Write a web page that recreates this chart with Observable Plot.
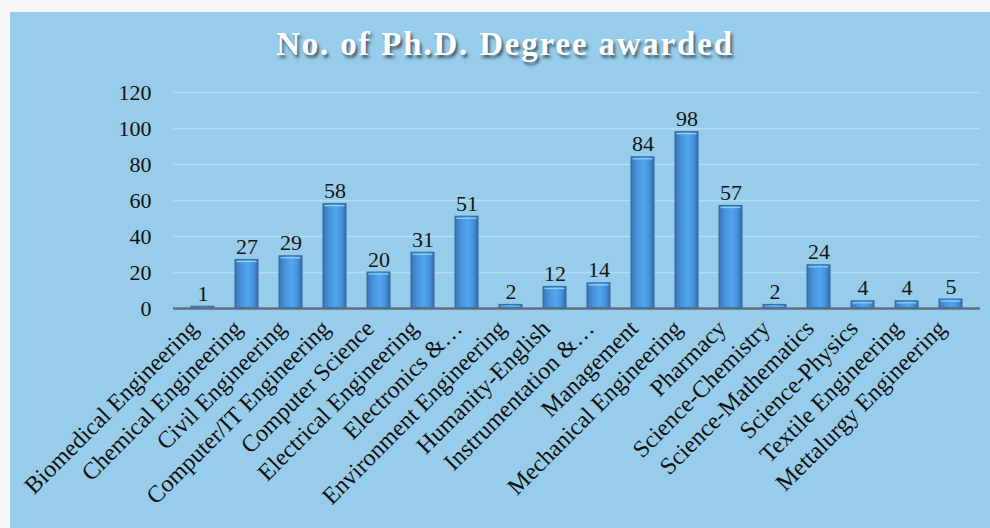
<!DOCTYPE html>
<html>
<head>
<meta charset="utf-8">
<script src="https://cdn.jsdelivr.net/npm/d3@7"></script>
<script src="https://cdn.jsdelivr.net/npm/@observablehq/plot@0.6"></script>
<style>
  html, body { margin: 0; padding: 0; background: #f7f7f7; width: 990px; height: 528px; overflow: hidden; }
  #panel { position: absolute; left: 10px; top: 12px; width: 980px; height: 516px; background: #97cdea; }
  #title { position: absolute; left: 0; top: 14px; width: 990px; text-align: center; }
  #title span { display: inline-block; font-family: "Liberation Serif", "Times New Roman", serif; font-weight: bold;
    font-size: 33px; color: #ffffff; letter-spacing: 1.8px;
    text-shadow: 2px 3px 3px rgba(0,0,0,0.55); white-space: nowrap; }
  #chart { position: absolute; left: 0; top: 63px; }
</style>
</head>
<body>
<div id="panel">
  <div id="title"><span>No. of Ph.D. Degree awarded</span></div>
  <div id="chart"></div>
</div>
<script>
const categories = ["Biomedical Engineering", "Chemical Engineering", "Civil Engineering", "Computer/IT Engineering",
  "Computer Science", "Electrical Engineering", "Electronics &…", "Environment Engineering", "Humanity-English",
  "Instrumentation &…", "Management", "Mechanical Engineering", "Pharmacy", "Science-Chemistry",
  "Science-Mathematics", "Science-Physics", "Textile Engineering", "Mettalurgy Engineering"];
const values = [1, 27, 29, 58, 20, 31, 51, 2, 12, 14, 84, 98, 57, 2, 24, 4, 4, 5];
const yTicks = [0, 20, 40, 60, 80, 100, 120];
const gridTicks = [20, 40, 60, 80, 100, 120];

const data = categories.map((c, i) => ({category: c, value: values[i]}));
const font = "'Liberation Serif', 'Times New Roman', serif";

const plot = Plot.plot({
  width: 980,
  height: 453,
  marginTop: 17,
  marginBottom: 220,
  marginLeft: 163,
  marginRight: 10,
  style: {background: "transparent", fontFamily: font, fontSize: "22px", color: "#111"},
  x: {domain: categories, paddingInner: 0.48, paddingOuter: 0.24, label: null},
  y: {domain: [0, 120], label: null},
  marks: [
    Plot.ruleY(gridTicks, {stroke: "#b3ddf3", strokeWidth: 1.5}),
    Plot.barY(data, {x: "category", y: "value", fill: "url(#barGrad)", stroke: "#3569a0", strokeWidth: 1}),
    Plot.rectY(data, {x: "category", y1: d => Math.max(0, d.value - 2.4), y2: "value", fill: "url(#capGrad)", inset: 1.5}),
    Plot.ruleY([0], {stroke: "#5b6f80", strokeWidth: 2.5}),
    Plot.text(data, {x: "category", y: "value", text: d => String(d.value), dy: -13, fontSize: 22, fill: "#151515", fontFamily: font}),
    Plot.axisY({ticks: yTicks, tickSize: 0, tickPadding: 22, fontSize: 22, label: null}),
    Plot.axisX({tickSize: 0, tickRotate: -45, tickPadding: 16, fontSize: 24, label: null, dx: -9})
  ]
});

const svg = d3.select(plot);
const defs = svg.insert("defs", ":first-child");
const g = defs.append("linearGradient").attr("id", "barGrad").attr("x1", 0).attr("x2", 1).attr("y1", 0).attr("y2", 0);
g.append("stop").attr("offset", "0%").attr("stop-color", "#3a72b0");
g.append("stop").attr("offset", "25%").attr("stop-color", "#4892dc");
g.append("stop").attr("offset", "55%").attr("stop-color", "#52a6f0");
g.append("stop").attr("offset", "80%").attr("stop-color", "#4792da");
g.append("stop").attr("offset", "100%").attr("stop-color", "#3768a6");
const c = defs.append("linearGradient").attr("id", "capGrad").attr("x1", 0).attr("x2", 0).attr("y1", 0).attr("y2", 1);
c.append("stop").attr("offset", "0%").attr("stop-color", "#a8e0fa");
c.append("stop").attr("offset", "100%").attr("stop-color", "#6cc0f4");

document.getElementById("chart").appendChild(plot);
</script>
</body>
</html>
